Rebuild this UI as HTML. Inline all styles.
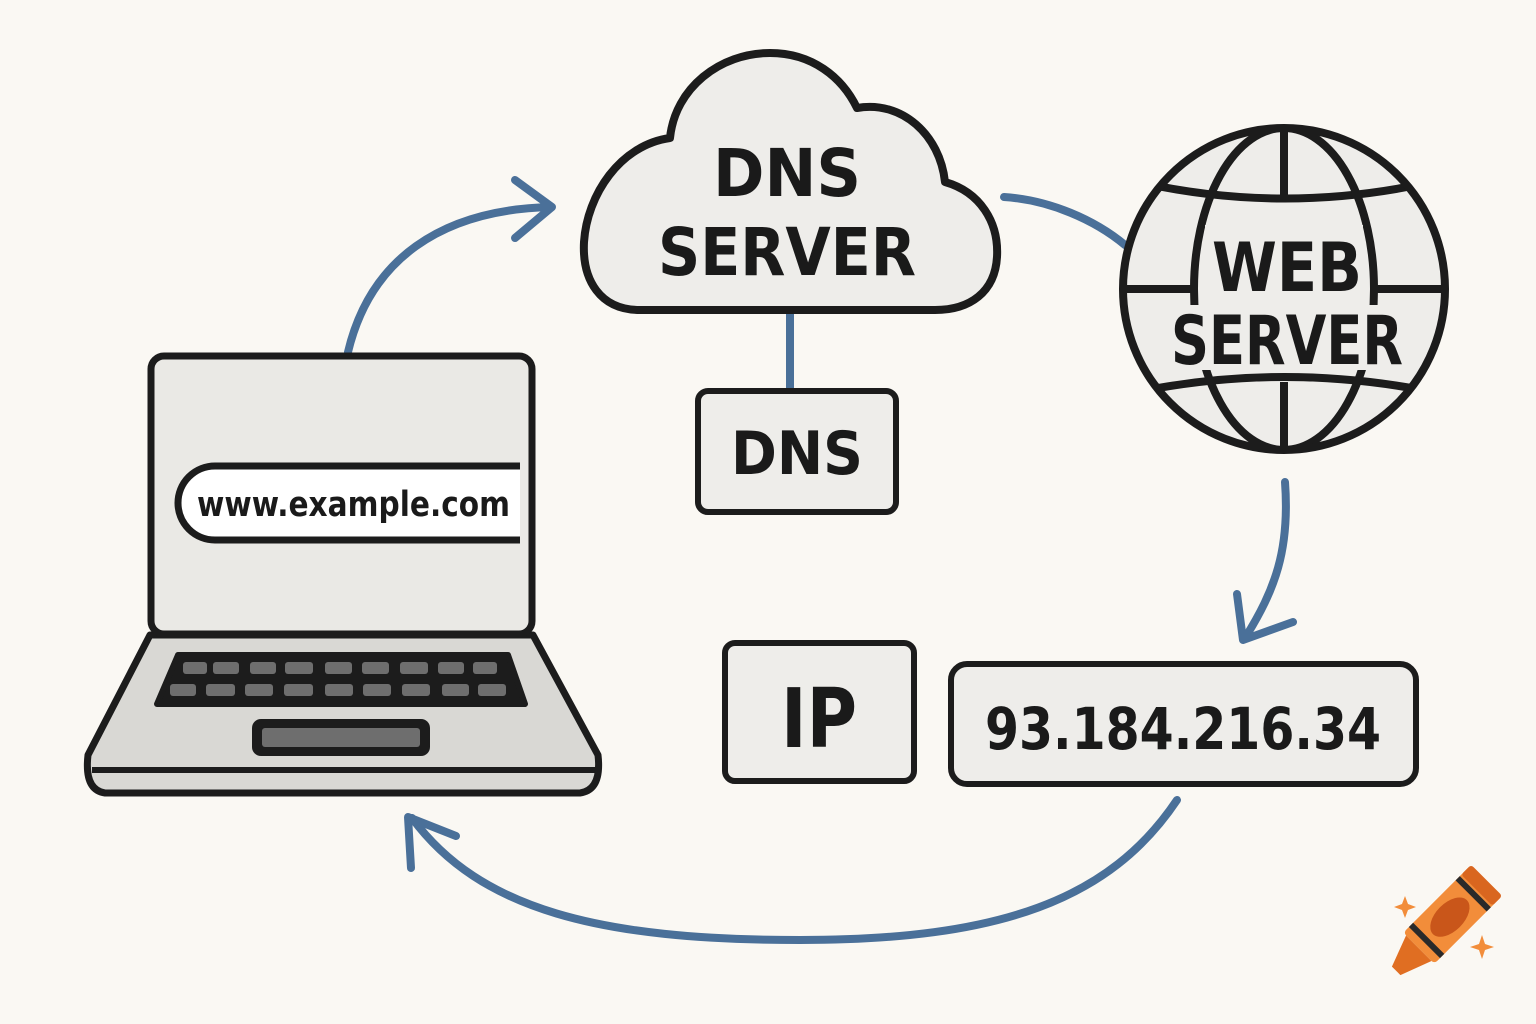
<!DOCTYPE html>
<html><head><meta charset="utf-8"><style>
html,body{margin:0;padding:0;background:#faf8f3;}
svg{display:block;}
text{font-family:"DejaVu Sans","Liberation Sans",sans-serif;font-weight:bold;fill:#1a1a1a;}
</style></head><body>
<svg width="1536" height="1024" viewBox="0 0 1536 1024" xmlns="http://www.w3.org/2000/svg">
<defs><clipPath id="gc"><circle cx="1284" cy="289" r="158"/></clipPath></defs>
<rect width="1536" height="1024" fill="#faf8f3"/>
<g fill="none" stroke="#4a7099" stroke-width="8" stroke-linecap="round" stroke-linejoin="round">
 <path d="M348,352 C370,260 440,210 550,207"/>
 <path d="M515,180 L552,207 L515,238"/>
 <path d="M1004,197 C1050,200 1095,220 1125,245"/>
 <path d="M1285,482 C1290,550 1275,590 1245,638"/>
 <path d="M1237,594 L1243,640 L1293,622"/>
 <path d="M1177,800 C1110,900 1000,940 800,940 C600,940 480,910 412,818"/>
 <path d="M411,868 L408,817 L456,836"/>
 <path d="M790,312 L790,390"/>
</g>
<!-- laptop base -->
<path d="M150,635 L533,635 L598,755 Q602,790 580,793 L105,793 Q84,790 88,755 Z" fill="#d9d8d4" stroke="#1c1c1c" stroke-width="7" stroke-linejoin="round"/>
<path d="M92,770 L596,770" stroke="#1c1c1c" stroke-width="6"/>
<path d="M178,655 L508,655 L525,704 L157,704 Z" fill="#1c1c1c" stroke="#1c1c1c" stroke-width="6" stroke-linejoin="round"/>
<g fill="#6e6e6e">
 <rect x="183" y="662" width="24" height="12" rx="3"/><rect x="213" y="662" width="26" height="12" rx="3"/><rect x="250" y="662" width="26" height="12" rx="3"/><rect x="285" y="662" width="28" height="12" rx="3"/><rect x="325" y="662" width="27" height="12" rx="3"/><rect x="362" y="662" width="27" height="12" rx="3"/><rect x="400" y="662" width="28" height="12" rx="3"/><rect x="438" y="662" width="26" height="12" rx="3"/><rect x="473" y="662" width="24" height="12" rx="3"/>
 <rect x="170" y="684" width="26" height="12" rx="3"/><rect x="206" y="684" width="29" height="12" rx="3"/><rect x="245" y="684" width="28" height="12" rx="3"/><rect x="284" y="684" width="29" height="12" rx="3"/><rect x="325" y="684" width="28" height="12" rx="3"/><rect x="363" y="684" width="28" height="12" rx="3"/><rect x="402" y="684" width="28" height="12" rx="3"/><rect x="442" y="684" width="27" height="12" rx="3"/><rect x="478" y="684" width="28" height="12" rx="3"/>
</g>
<rect x="252" y="719" width="178" height="37" rx="9" fill="#1c1c1c"/>
<rect x="262" y="728" width="158" height="19" rx="3" fill="#6e6e6e"/>
<!-- screen -->
<rect x="151" y="356" width="381" height="278" rx="13" fill="#eae9e5" stroke="#1c1c1c" stroke-width="7"/>
<path d="M520,466 L215,466 A37,37 0 0 0 215,540 L520,540" fill="#ffffff" stroke="#1c1c1c" stroke-width="7"/>
<text x="197" y="516" font-size="35" textLength="313" lengthAdjust="spacingAndGlyphs">www.example.com</text>
<!-- cloud -->
<path d="M640,310 C600,310 582,280 584,242 C587,195 620,145 670,138 C675,88 720,53 770,53 C812,53 842,77 857,108 C902,100 940,135 945,182 C980,192 999,222 997,257 C995,292 970,310 935,310 Z" fill="#eeedea" stroke="#1c1c1c" stroke-width="8" stroke-linejoin="round"/>
<text x="787" y="196" font-size="66" text-anchor="middle" textLength="148" lengthAdjust="spacingAndGlyphs">DNS</text>
<text x="787" y="275" font-size="66" text-anchor="middle" textLength="258" lengthAdjust="spacingAndGlyphs">SERVER</text>
<!-- DNS box -->
<rect x="698" y="391" width="198" height="121" rx="10" fill="#eeedea" stroke="#1c1c1c" stroke-width="6"/>
<text x="797" y="474" font-size="60" text-anchor="middle" textLength="132" lengthAdjust="spacingAndGlyphs">DNS</text>
<!-- globe -->
<circle cx="1284" cy="289" r="161" fill="#eeedea"/>
<g stroke="#1c1c1c" stroke-width="8" fill="none" clip-path="url(#gc)">
 <ellipse cx="1284" cy="289" rx="90" ry="161"/>
 <path d="M1284,120 L1284,195 M1284,382 L1284,460"/>
 <path d="M1110,175 Q1284,222 1460,175"/>
 <path d="M1110,398 Q1284,356 1460,398"/>
 <path d="M1110,289 L1192,289 M1376,289 L1460,289"/>
</g>
<circle cx="1284" cy="289" r="161" fill="none" stroke="#1c1c1c" stroke-width="8"/>
<rect x="1205" y="225" width="158" height="72" fill="#eeedea"/>
<rect x="1170" y="305" width="230" height="65" fill="#eeedea"/>
<text x="1287" y="291" font-size="68" text-anchor="middle" textLength="150" lengthAdjust="spacingAndGlyphs">WEB</text>
<text x="1287" y="364" font-size="68" text-anchor="middle" textLength="232" lengthAdjust="spacingAndGlyphs">SERVER</text>
<!-- IP -->
<rect x="725" y="643" width="189" height="138" rx="10" fill="#eeedea" stroke="#1c1c1c" stroke-width="6"/>
<text x="819" y="747" font-size="82" text-anchor="middle" textLength="76" lengthAdjust="spacingAndGlyphs">IP</text>
<rect x="951" y="664" width="465" height="120" rx="16" fill="#eeedea" stroke="#1c1c1c" stroke-width="6"/>
<text x="1183" y="749" font-size="58" text-anchor="middle" textLength="396" lengthAdjust="spacingAndGlyphs">93.184.216.34</text>
<!-- crayon -->
<g transform="translate(1440,927) rotate(-45)">
 <rect x="-30" y="-22" width="96" height="44" rx="4" fill="#f28d3a"/>
 <rect x="52" y="-22" width="14" height="44" rx="3" fill="#d9661f"/>
 <rect x="44" y="-22" width="6" height="44" fill="#2a2a2a"/>
 <rect x="-22" y="-22" width="6" height="44" fill="#2a2a2a"/>
 <ellipse cx="14" cy="0" rx="24" ry="14" fill="#c9561a"/>
 <path d="M-30,-18 L-62,-6 L-62,6 L-30,18 Z" fill="#e06e22"/>
</g>
<path d="M1405,896 l3,8 l8,3 l-8,3 l-3,8 l-3,-8 l-8,-3 l8,-3z" fill="#f28d3a"/>
<path d="M1482,935 l3,9 l9,3 l-9,3 l-3,9 l-3,-9 l-9,-3 l9,-3z" fill="#f28d3a"/>
</svg>
</body></html>
